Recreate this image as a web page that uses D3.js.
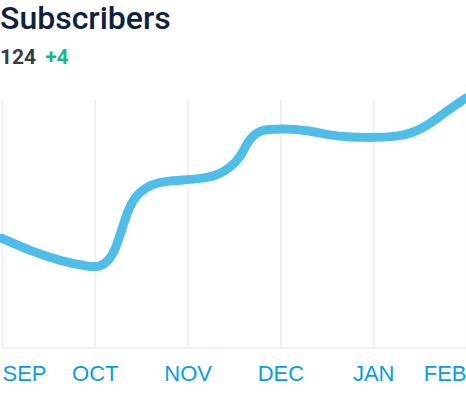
<!DOCTYPE html>
<html>
<head>
<meta charset="utf-8">
<script src="https://cdn.jsdelivr.net/npm/d3@7"></script>
<style>
  body { margin: 0; background: #fff; }
  svg { display: block; }
</style>
</head>
<body>
<svg id="chart" width="466" height="396"></svg>
<script>
// month ticks along the bottom
var months = ["SEP", "OCT", "NOV", "DEC", "JAN", "FEB"];

// subscriber count, t = position in months since SEP
var t = [0, 0.30, 0.63, 0.95, 1.06, 1.16, 1.24, 1.30, 1.35, 1.41, 1.49, 1.60, 1.74,
         2.13, 2.32, 2.46, 2.57, 2.64, 2.71, 2.78, 2.89, 3.02,
         3.32, 3.53, 3.75, 4.01, 4.29, 4.43, 4.58, 4.72, 4.86, 5.0];
var counts = [109.5, 108.2, 107.1, 106.5, 106.5, 107.2, 108.8, 110.7, 112.2, 113.5, 114.4, 115.1, 115.5,
              115.7, 116.1, 116.9, 118.0, 119.5, 120.3, 120.8, 120.9, 121.0,
              120.8, 120.3, 120.1, 120.05, 120.2, 120.6, 121.3, 122.3, 123.3, 124.2];

var total = 124, change = "+4";

var svg = d3.select("#chart"),
    width = +svg.attr("width");

var plotTop = 100, plotBottom = 348;

var x = d3.scaleLinear().domain([0, months.length - 1]).range([2, 466]);
var y = d3.scaleLinear().domain([98, 124]).range([plotBottom, plotTop]);

// header
svg.append("text")
    .attr("x", 0).attr("y", 29)
    .attr("font-family", "Roboto")
    .attr("font-weight", 500)
    .attr("font-size", 32)
    .attr("fill", "#0e2240")
    .text("Subscribers");

var sub = svg.append("text")
    .attr("x", 0).attr("y", 64)
    .attr("font-family", "Roboto")
    .attr("font-weight", 700)
    .attr("font-size", 21);
sub.append("tspan").attr("fill", "#363d45").text(total);
sub.append("tspan").attr("dx", 9).attr("fill", "#18b886").text(change);

// grid + labels
var axis = d3.axisBottom(x)
    .tickValues(d3.range(months.length))
    .tickSize(plotBottom - plotTop)
    .tickFormat(function(i) { return months[i]; });

var g = svg.append("g")
    .attr("transform", "translate(0," + plotTop + ")")
    .call(axis);

g.select(".domain").remove();
g.selectAll(".tick line")
    .attr("stroke", "#ececec")
    .attr("stroke-width", 1.5);
g.selectAll(".tick text")
    .attr("y", plotBottom - plotTop + 33)
    .attr("dy", 0)
    .attr("font-family", "Liberation Sans, Arial, sans-serif")
    .attr("font-size", 22)
    .attr("fill", "#0a9de0")
    .attr("text-anchor", function(i) {
      return i === 0 ? "start" : (i === months.length - 1 ? "end" : "middle");
    });

svg.append("line")
    .attr("x1", 2).attr("x2", width)
    .attr("y1", plotBottom).attr("y2", plotBottom)
    .attr("stroke", "#ececec")
    .attr("stroke-width", 1.5);

// the line
var line = d3.line()
    .x(function(d, i) { return x(t[i]); })
    .y(function(d) { return y(d); })
    .curve(d3.curveBasis);

svg.append("path")
    .datum(counts)
    .attr("fill", "none")
    .attr("stroke", "#4ebee9")
    .attr("stroke-width", 9)
    .attr("stroke-linecap", "round")
    .attr("d", line);
</script>
</body>
</html>
